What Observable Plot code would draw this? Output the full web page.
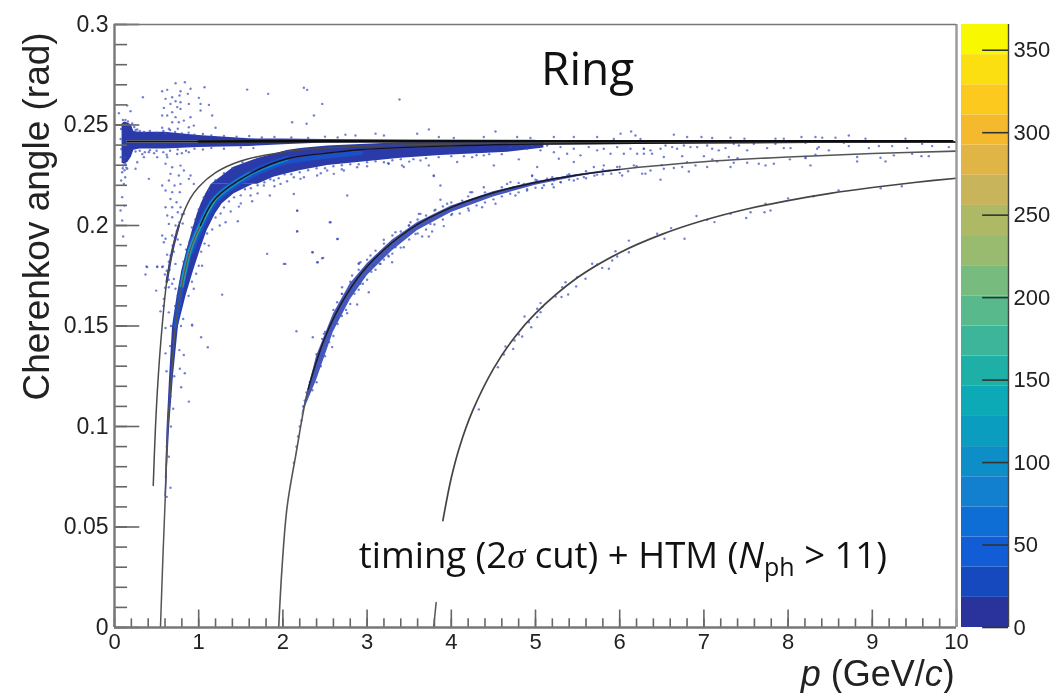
<!DOCTYPE html>
<html>
<head>
<meta charset="utf-8">
<script src="https://cdn.jsdelivr.net/npm/d3@7"></script>
<script src="https://cdn.jsdelivr.net/npm/@observablehq/plot@0.6"></script>
<style>
html,body{margin:0;padding:0;background:#fff;overflow:hidden}
#wrap{position:relative;width:1063px;height:693px;overflow:hidden;filter:blur(0.45px)}
#wrap svg{position:absolute;left:0;top:0;background:transparent;overflow:visible}
</style>
</head>
<body>
<div id="wrap"></div>
<script>
// ---------- curves [p, angle] ----------
const electronLine = [[0.15,0.2418],[1,0.2418],[3,0.2419],[6,0.2419],[9.95,0.2419]];
const muonLine = [[0.46,0.0706],[0.487,0.1],[0.52,0.125],[0.566,0.15],[0.62,0.172],[0.69,0.188],[0.764,0.2],[0.9,0.2135],[1,0.2192],[1.2,0.2263],[1.5,0.2321],[2,0.2365],[2.5,0.2384],[3,0.2395],[4,0.2406],[6,0.2413],[10,0.2417]];
const pionLine = [[0.546,0],[0.575,0.035],[0.606,0.068],[0.633,0.1],[0.675,0.125],[0.724,0.15],[0.8,0.17],[0.9,0.188],[1.02,0.2],[1.2,0.2135],[1.6,0.2255],[2.05,0.2332],[2.5,0.2359],[2.92,0.2377],[4,0.2396],[5,0.2405],[7,0.2412],[10,0.2415]];
const kaonLine = [[1.95,0],[1.99,0.03],[2.05,0.06],[2.15,0.085],[2.3,0.1186],[2.5,0.1443],[2.75,0.1652],[3,0.1796],[3.5,0.1979],[4,0.209],[4.5,0.2163],[5,0.2214],[5.5,0.2251],[6,0.2279],[7,0.2317],[8,0.2341],[9,0.2358],[10,0.237]];
const protonLineLow = [[3.79,0],[3.82,0.0124]];
const protonLineHigh = [[3.9,0.0532],[4,0.0745],[4.1,0.0901],[4.25,0.1075],[4.5,0.1287],[4.75,0.1443],[5,0.1563],[5.5,0.1741],[6,0.1865],[6.5,0.1956],[7,0.2026],[7.5,0.2081],[8,0.2124],[8.5,0.216],[9,0.2189],[9.5,0.2214],[10,0.2235]];

// ---------- dense bands ----------
const electronBand = [[0.09,0.231,0.2505],[0.12,0.2305,0.2515],[0.16,0.2315,0.251],[0.2,0.234,0.25],[0.23,0.2375,0.2468],[0.3,0.238,0.2464],[0.6,0.2381,0.2464],[1,0.2388,0.2448],[1.6,0.2393,0.2431],[2,0.2402,0.243],[2.5,0.241,0.2428],[3.5,0.2412,0.2425],[5,0.2414,0.2424]];
const pionBandSteep = [[0.065,0.6,0.615],[0.08,0.61,0.63],[0.1,0.625,0.655],[0.125,0.655,0.7],[0.15,0.69,0.76],[0.165,0.745,0.85],[0.1776,0.8,0.94],[0.1892,0.87,1.03],[0.1975,0.925,1.1],[0.2058,0.985,1.2],[0.2108,1.03,1.28],[0.2158,1.085,1.42],[0.2205,1.15,1.65]];
const pionBandFlat = [[1.15,0.2205,0.2205],[1.417,0.2205,0.229],[1.7,0.2205,0.2333],[1.89,0.224,0.2355],[2.05,0.2258,0.2373],[2.21,0.2274,0.2383],[2.53,0.2298,0.2396],[2.92,0.2315,0.2403],[3.4,0.2335,0.2412],[3.87,0.2348,0.2415],[4.67,0.2365,0.2418],[5.1,0.2385,0.2418]];
const kaonBand = [[2.22,0.105,0.105],[2.4,0.123,0.135],[2.6,0.147,0.156],[2.8,0.163,0.171],[3,0.175,0.181],[3.3,0.1875,0.1928],[3.6,0.1975,0.2015],[4,0.2065,0.2097],[4.5,0.2142,0.2168],[5,0.22,0.2218],[5.5,0.2242,0.2254],[5.9,0.2272,0.2277]];

// ---------- single entries ----------
const cloudAbove = [[0.725,0.2708],[0.836,0.2713],[0.903,0.268],[0.626,0.2675],[0.566,0.2668],[0.784,0.2668],[1.069,0.2688],[0.772,0.2647],[0.685,0.2638],[0.871,0.2655],[0.337,0.2638],[0.606,0.263],[0.725,0.2618],[0.784,0.2613],[1.002,0.2635],[0.883,0.2605],[1.022,0.2605],[1.121,0.26],[0.665,0.2605],[0.745,0.2589],[0.586,0.2585],[0.685,0.2564],[0.784,0.258],[0.903,0.2539],[0.566,0.2547],[0.626,0.2547],[0.725,0.2539],[1.022,0.2572],[1.16,0.2547],[0.685,0.2514],[0.764,0.2514],[0.824,0.2522],[0.942,0.2497],[0.566,0.2486],[0.646,0.2481],[0.752,0.2481],[0.883,0.2489],[1.2,0.2486],[0.606,0.2459],[1.576,0.2676],[1.825,0.2655],[2.249,0.2685],[2.288,0.2675],[2.467,0.2605],[2.368,0.2547],[2.11,0.2514],[2.281,0.2506],[0.151,0.2597],[0.19,0.2569],[0.052,0.2559]];
const cloudBelow = [[0.626,0.234],[0.745,0.2356],[0.883,0.2365],[0.606,0.2307],[0.685,0.229],[0.784,0.2298],[0.665,0.2257],[0.764,0.2249],[0.824,0.2274],[0.903,0.2249],[0.566,0.2199],[0.646,0.2224],[0.713,0.2199],[0.784,0.2207],[0.883,0.2232],[0.606,0.2174],[0.685,0.2166],[0.776,0.2166],[0.942,0.2207],[0.665,0.2132],[0.737,0.2116],[0.606,0.2091],[0.685,0.2091],[0.784,0.2091],[0.626,0.205],[0.685,0.2041],[0.752,0.2066],[0.824,0.2058],[0.646,0.2008],[0.725,0.2],[0.566,0.195],[0.606,0.1934],[0.685,0.195],[0.388,0.1793],[0.507,0.1793],[0.566,0.1793],[0.408,0.2232],[1.813,0.1859],[2.011,0.1809],[2.348,0.1867],[2.407,0.1817],[2.478,0.1839],[2.17,0.2074],[2.17,0.1972],[2.566,0.2016],[2.653,0.1933],[2.902,0.1812],[2.764,0.2149],[2.13,0.2157],[1.845,0.2149],[1.635,0.2121],[1.477,0.2094],[1.465,0.2021],[1.319,0.2016],[1.774,0.2199],[1.972,0.2207],[2.209,0.2232],[2.407,0.2249],[2.605,0.2257],[1.616,0.2149],[1.893,0.2224],[2.13,0.224],[2.526,0.2274],[2.724,0.2274],[2.882,0.229],[0.349,0.234],[0.27,0.2315],[0.25,0.2282],[0.408,0.2365],[0.507,0.234]];
const leftFuzz = [[0.091,0.2265],[0.111,0.2207],[0.091,0.2141],[0.072,0.2075],[0.119,0.2099],[0.091,0.2025],[0.103,0.1945],[0.151,0.2282],[0.119,0.234],[0.111,0.2323],[0.103,0.2298],[0.127,0.224],[0.079,0.2224],[0.075,0.234],[0.08,0.238],[0.072,0.243],[0.078,0.248],[0.13,0.2525],[0.1,0.2525],[0.16,0.2518],[0.21,0.2508],[0.235,0.249],[0.27,0.2478],[0.098,0.2285],[0.12,0.2275],[0.14,0.2288],[0.13,0.2305]];
const electronFuzz = [[0.25,0.2475],[0.3,0.247],[0.35,0.2465],[0.42,0.247],[0.5,0.2462],[0.58,0.247],[0.66,0.2475],[0.72,0.2465],[0.8,0.2458],[0.88,0.2462],[0.95,0.2452],[1.05,0.2455],[1.15,0.2448],[1.3,0.2445],[1.45,0.2442],[1.6,0.2445],[1.75,0.2438],[1.9,0.244],[2.1,0.2438],[2.3,0.2435],[2.5,0.2442],[2.65,0.2438],[0.25,0.2368],[0.3,0.2372],[0.36,0.2365],[0.42,0.2375],[0.5,0.2372],[0.58,0.2365],[0.66,0.2372],[0.75,0.2378],[0.85,0.2372],[0.95,0.2382],[1.05,0.2378],[1.15,0.2385],[1.3,0.2382],[1.5,0.2388],[1.65,0.2385],[0.33,0.2355],[0.47,0.236],[0.62,0.2352],[0.8,0.236]];
const pionEdge = [[0.88,0.165],[0.92,0.172],[0.97,0.176],[1,0.18],[1.03,0.187],[1.07,0.191],[1.1,0.196],[1.16,0.198],[1.2,0.204],[1.26,0.206],[1.3,0.209],[1.36,0.212],[1.42,0.214],[1.5,0.215],[1.55,0.218],[1.62,0.2185],[1.7,0.22],[1.78,0.2215],[1.85,0.223],[1.95,0.2235],[2.02,0.2255],[2.1,0.2255],[2.2,0.2265],[2.3,0.2275],[2.4,0.2285],[2.5,0.2285],[2.6,0.2295],[2.7,0.23],[2.8,0.2305],[2.9,0.2305],[3,0.2315],[3.1,0.232],[3.2,0.2315],[3.3,0.2325],[3.4,0.233],[3.55,0.233],[3.7,0.2335],[3.85,0.234],[4,0.2345],[4.15,0.2345],[4.3,0.235],[4.45,0.2355],[4.6,0.2355],[1.04,0.18],[1.12,0.19],[1.25,0.2],[1.38,0.207],[1.5,0.211],[1.7,0.216],[1.9,0.2195],[2.05,0.222],[2.25,0.224],[2.45,0.226],[2.7,0.228],[3,0.2295],[3.25,0.231],[3.5,0.2318],[0.75,0.165],[0.78,0.172],[0.82,0.182],[0.85,0.188],[0.89,0.192],[0.92,0.199],[0.96,0.203],[1,0.208],[1.06,0.214],[1.12,0.2175],[1.2,0.2225],[1.3,0.226],[1.4,0.2285],[1.52,0.2315],[0.66,0.14],[0.67,0.15],[0.72,0.16],[0.79,0.15],[0.77,0.138],[0.71,0.125],[0.665,0.115],[0.67,0.1],[0.62,0.09],[0.645,0.085],[0.61,0.075],[0.62,0.065]];
const muonTrail = [[0.62,0.1775],[0.645,0.182],[0.665,0.185],[0.69,0.19],[0.715,0.194],[0.74,0.197],[0.77,0.2015],[0.8,0.2055],[0.655,0.178],[0.705,0.187],[0.75,0.193],[0.81,0.201],[0.6,0.169],[0.58,0.16]];
const pionLowCloud = [[1.279,0.1656],[0.922,0.1507],[0.922,0.1502],[1.029,0.1444],[1.108,0.1394],[0.823,0.1356],[0.776,0.1287],[0.835,0.1265],[0.792,0.1195],[0.883,0.1124],[0.697,0.1088],[0.665,0.0695],[0.38,0.1796],[0.507,0.1796],[0.574,0.1796],[0.368,0.1756],[0.495,0.1676],[0.598,0.1756],[0.645,0.173],[0.705,0.1734],[0.724,0.1685],[0.645,0.1693],[0.586,0.1635],[0.645,0.1568],[0.546,0.1573],[0.606,0.149],[0.685,0.1419],[0.606,0.1364],[0.618,0.1275],[0.724,0.1809],[0.784,0.1905],[0.586,0.1917],[0.625,0.1855],[0.942,0.1685],[0.816,0.1535],[0.685,0.171]];
const electronTail = [[3.385,0.2627],[3.733,0.2478],[4.525,0.2468],[6.01,0.2457],[6.136,0.2468],[3.595,0.2457],[3.1,0.2457],[3.2,0.2448],[2.743,0.2452],[2.862,0.2448],[6.187,0.2448],[3.852,0.244],[4.03,0.2435],[4.386,0.244],[4.782,0.244],[4.94,0.2435],[5.218,0.244],[5.455,0.244],[5.732,0.244],[5.93,0.243],[6.247,0.243],[4.703,0.239],[4.822,0.2402],[4.901,0.2382],[4.96,0.2398],[5.059,0.2374],[5.138,0.2398],[5.218,0.2365],[5.297,0.239],[5.376,0.2357],[5.455,0.2382],[5.534,0.2349],[5.633,0.239],[5.732,0.2374],[5.811,0.2382],[5.891,0.2357],[5.97,0.239],[6.049,0.2357],[6.128,0.2382],[6.207,0.2357],[6.287,0.2382],[6.385,0.2357],[4.386,0.2349],[4.248,0.234],[4.07,0.2316],[3.733,0.2299],[3.634,0.2324],[3.416,0.2299],[3.258,0.2307],[3.436,0.2291],[4.505,0.2299],[4.802,0.2329],[5.02,0.2291],[4.96,0.2246],[3.792,0.2246],[5.277,0.2332],[5.455,0.2316],[6.643,0.2452],[6.801,0.244],[6.971,0.244],[7.098,0.2435],[7.316,0.2437],[7.482,0.2432],[7.85,0.2432],[7.949,0.2432],[8.159,0.244],[8.325,0.244],[8.405,0.2437],[8.563,0.2437],[8.721,0.2448],[8.919,0.2432],[9.394,0.2432],[9.592,0.2407],[6.287,0.2382],[6.366,0.2374],[6.485,0.2382],[6.544,0.2398],[6.623,0.239],[6.682,0.2382],[6.762,0.2398],[6.841,0.239],[6.92,0.239],[7.039,0.2398],[7.098,0.2382],[7.177,0.2374],[7.257,0.2385],[7.355,0.2407],[7.415,0.2398],[7.514,0.2374],[7.593,0.2407],[7.751,0.2385],[7.85,0.2407],[7.949,0.2385],[8.029,0.2385],[8.207,0.2412],[8.345,0.2382],[8.365,0.239],[8.484,0.2374],[8.662,0.2412],[8.721,0.2395],[8.959,0.2385],[9.078,0.2395],[9.236,0.2395],[9.414,0.2385],[9.711,0.2395],[9.909,0.239],[6.287,0.2357],[6.524,0.2341],[6.742,0.2345],[7,0.2345],[7.296,0.2341],[8.207,0.2341],[8.325,0.2352],[8.82,0.2341],[9.097,0.2337],[9.473,0.2357],[9.584,0.2345],[9.671,0.2345]];
const kaonScatter = [[2.407,0.1328],[2.466,0.1436],[2.505,0.1444],[2.585,0.1395],[2.565,0.1511],[2.624,0.1544],[2.763,0.1564],[2.703,0.166],[2.882,0.1607],[2.822,0.1701],[2.921,0.171],[3.02,0.1668],[2.901,0.1809],[2.961,0.1743],[3.079,0.1801],[3.04,0.1851],[3.159,0.1809],[3.297,0.1817],[3.257,0.1846],[3.198,0.1929],[3.337,0.1892],[3.436,0.1892],[3.337,0.1967],[3.495,0.2],[3.574,0.1958],[3.654,0.1945],[3.733,0.1945],[3.772,0.197],[3.634,0.2058],[3.752,0.2008],[3.911,0.1997],[3.871,0.205],[4.01,0.2058],[4.208,0.2075],[4.129,0.2124],[4.366,0.2091],[4.525,0.2108],[4.247,0.2166],[4.663,0.2207],[4.762,0.2149],[4.9,0.2174],[4.96,0.2249],[5.079,0.2187],[5.217,0.219],[3.792,0.2249],[3.871,0.2199],[3.871,0.2128],[2.486,0.1461],[2.644,0.1618],[2.703,0.1693],[2.822,0.1751],[2.921,0.1817],[3.515,0.2016],[3.614,0.2058],[3.812,0.2078],[3.951,0.2108],[4.227,0.2166],[4.386,0.219],[4.861,0.2207],[5.019,0.2224],[5.257,0.2232],[4.703,0.2216],[5.02,0.2216],[5.138,0.2233],[5.297,0.2216],[5.455,0.2224],[5.693,0.2291],[5.811,0.2299],[5.97,0.2291],[6.029,0.2249],[6.168,0.2299],[6.267,0.2258],[5.732,0.2253],[5.574,0.2241],[5.376,0.2249],[5.218,0.2224],[6.306,0.2258],[6.366,0.2274],[6.485,0.2228],[6.524,0.2282],[6.643,0.2286],[6.742,0.2291],[6.821,0.2269],[6.9,0.2299],[7.039,0.2291],[7.158,0.2319],[7.316,0.2291],[7.355,0.2312],[7.514,0.2312],[7.652,0.2307],[7.732,0.2299],[7.831,0.2307],[8.021,0.2329],[8.207,0.2335],[8.266,0.2299],[8.82,0.2319],[9.157,0.2319],[9.256,0.2349],[2.169,0.2074],[2.557,0.2016],[2.169,0.197],[2.644,0.1933],[2.355,0.1867],[2.466,0.1837],[2.414,0.1817],[2.03,0.1809],[2.161,0.1474],[2.355,0.1444]];
const kaonEdge = [[2.13,0.082],[2.16,0.09],[2.2,0.1],[2.24,0.11],[2.18,0.095],[2.22,0.103],[2.26,0.113],[2.28,0.117],[2.32,0.122],[2.35,0.118],[2.4,0.122],[2.45,0.13],[2.5,0.135],[2.55,0.142],[2.6,0.145],[2.65,0.151],[2.7,0.155],[2.75,0.158],[2.8,0.161],[2.85,0.166],[2.9,0.168],[2.95,0.171],[3,0.173],[3.05,0.177],[3.1,0.178],[3.15,0.181],[3.2,0.183],[3.25,0.185],[3.3,0.186],[3.4,0.189],[3.5,0.193],[3.6,0.196],[3.7,0.198],[3.8,0.2005],[3.9,0.203],[4,0.2052],[4.1,0.206],[4.2,0.2085],[4.3,0.21],[4.4,0.2115],[4.5,0.213],[4.6,0.2145],[4.7,0.2158],[4.8,0.2165],[4.9,0.218],[5,0.2188],[5.1,0.22],[5.2,0.2205],[5.3,0.2215],[5.4,0.2228],[5.5,0.2232],[5.6,0.2235],[5.7,0.2248],[5.8,0.2255],[5.9,0.2258],[6,0.2262],[6.1,0.227],[2.4,0.136],[2.5,0.147],[2.6,0.158],[2.7,0.166],[2.8,0.172],[2.9,0.178],[3,0.183],[3.1,0.1875],[3.2,0.191],[3.3,0.195],[3.4,0.197],[3.5,0.2],[3.6,0.203],[3.7,0.205],[3.8,0.2075],[3.9,0.2095],[4,0.2115],[4.2,0.2145],[4.4,0.2165],[4.6,0.219],[4.8,0.2212],[5,0.2228],[5.2,0.224],[5.4,0.2255],[5.6,0.227],[5.8,0.2278],[6,0.2292],[6.2,0.2295],[6.5,0.23],[6.8,0.2315],[7.1,0.2328],[7.4,0.2335]];
const protonScatter = [[4.327,0.1085],[4.553,0.1295],[4.624,0.1358],[4.644,0.1398],[4.735,0.1386],[4.751,0.1428],[4.802,0.1458],[4.842,0.1448],[4.87,0.1547],[4.949,0.1494],[4.921,0.1519],[5.02,0.1544],[5.06,0.1569],[5.02,0.1586],[5.08,0.1594],[5.06,0.1614],[5.238,0.1647],[5.309,0.1644],[5.388,0.1657],[5.317,0.1693],[5.357,0.1718],[5.483,0.1697],[5.495,0.1743],[5.594,0.1735],[5.673,0.181],[5.733,0.1806],[5.792,0.1789],[5.871,0.1785],[5.911,0.1826],[5.97,0.1846],[5.95,0.1872],[6.109,0.1925],[6.109,0.1867],[6.445,0.1959],[6.532,0.1934],[6.611,0.1987],[6.77,0.1934],[6.912,0.2047],[7.039,0.2028],[7.126,0.2017],[7.316,0.2058],[7.502,0.2037],[7.554,0.2066],[7.732,0.2108],[7.72,0.2066],[7.791,0.2075],[8,0.2135],[8.3,0.2145],[8.6,0.2175],[9.1,0.2185],[9.35,0.2195]];

// ---------- axes and colour bar ----------
const xTickValues = [0,1,2,3,4,5,6,7,8,9,10];
const yTickValues = [0,0.05,0.1,0.15,0.2,0.25,0.3];
const barTickValues = [0,50,100,150,200,250,300,350];
const barMax = 365.6;
const barColors = ["#2a339c","#1649bd","#125cd6","#0f6ed6","#137fcf","#0d8ec6","#0a9dc0","#0ca9b6","#1eb0a6","#3cb59a","#58b98c","#78bb7e","#98bb70","#aeb966","#c8b45a","#e0b445","#f4b92d","#fcc91e","#fbdf10","#f8f800"];
const titleRing = "Ring";
const noteText = "timing (2σ cut) + HTM (Nph > 11)";
const xTitle = "p (GeV/c)";
const yTitle = "Cherenkov angle (rad)";

const W = 1063, H = 693;
const pts = (t) => t.map(d => ({p:d[0], a:d[1]}));
const band = (t) => t.map(d => ({p:d[0], lo:d[1], hi:d[2]}));
const steep = (t) => t.map(d => ({a:d[0], l:d[1], r:d[2]}));
const part = (t, a, b) => pts(t).filter(d => d.p >= a && d.p <= b);

const minorX = d3.range(0, 50.5).map(i => i * 0.2);
const minorY = d3.range(0, 30.5).map(i => i * 0.01);
const tickColor = "#666";
const dotColor = "#3a4ec4";
const deep = "#2a3aa8";

function cloud(t, r = 1.2, o = 0.72) {
  return Plot.dot(pts(t), {x:"p", y:"a", r, fill:dotColor, fillOpacity:o, stroke:"none"});
}
function curve(t, stroke, strokeWidth, dy = 0) {
  return Plot.line(t, {x:"p", y:"a", stroke, strokeWidth, dy, curve:"catmull-rom", strokeLinecap:"round"});
}

const chart = Plot.plot({
  width:W, height:H, marginLeft:114, marginRight:107, marginTop:24, marginBottom:66,
  style:{background:"transparent", fontFamily:"'Liberation Sans',sans-serif", overflow:"visible"},
  x:{domain:[0,10], range:[114,956]},
  y:{domain:[0,0.3], range:[627,24]},
  marks:[
    // dense bands
    Plot.areaY(band(electronBand), {x:"p", y1:"lo", y2:"hi", fill:deep}),
    Plot.areaX(steep(pionBandSteep), {y:"a", x1:"l", x2:"r", fill:deep}),
    Plot.areaY(band(pionBandFlat), {x:"p", y1:"lo", y2:"hi", fill:deep}),
    Plot.areaY(band(kaonBand), {x:"p", y1:"lo", y2:"hi", fill:"#2a40b0", fillOpacity:0.88}),
    curve(part(pionLine,0.9,2.1), "#1a50c8", 8, 1),
    curve(part(pionLine,2.05,3.6), "#1a50c8", 5, 3),
    curve(part(pionLine,0.72,1.02), "#1a50c8", 5),
    curve(part(pionLine,0.75,1.6), "#0e86cc", 4.5),
    curve(part(pionLine,1.2,2.1), "#0e86cc", 2.5, 1),
    curve(part(pionLine,0.8,1.25), "#1eb0a6", 2.8),
    curve(part(pionLine,0.8,1.1), "#b0b060", 1.2),
    curve(part(muonLine,0.6,0.82), deep, 2.4),
    // scattered entries
    cloud(cloudAbove), cloud(cloudBelow), cloud(leftFuzz), cloud(pionLowCloud),
    cloud(electronTail), cloud(electronFuzz), cloud(pionEdge), cloud(muonTrail),
    cloud(kaonScatter), cloud(kaonEdge), cloud(protonScatter),
    // reference curves
    curve(pts(muonLine), "#4a4a4a", 1.5),
    curve(pts(pionLine), "#555", 1.5),
    curve(part(pionLine,1.02,10), "#10122a", 1.4),
    curve(pts(kaonLine), "#555", 1.6),
    curve(part(kaonLine,2.3,6), "#181830", 1.4),
    curve(pts(protonLineLow), "#555", 1.5),
    curve(pts(protonLineHigh), "#444", 1.7),
    Plot.line(pts(electronLine), {x:"p", y:"a", stroke:"#8a8a8a", strokeWidth:2.4}),
    Plot.line(part(electronLine,0.15,1), {x:"p", y:"a", stroke:"#111", strokeWidth:1.4}),
    Plot.line(pts(electronLine).filter(d => d.p >= 1), {x:"p", y:"a", stroke:"#0c0c0c", strokeWidth:2.6}),
    // ticks inside the frame
    Plot.ruleX(minorX, {y1:0, y2:0.0043, stroke:tickColor, strokeWidth:1.6}),
    Plot.ruleX(xTickValues, {y1:0, y2:0.0087, stroke:tickColor, strokeWidth:1.6}),
    Plot.ruleY(minorY, {x1:0, x2:0.155, stroke:tickColor, strokeWidth:1.6}),
    Plot.ruleY(yTickValues, {x1:0, x2:0.3, stroke:tickColor, strokeWidth:1.6}),
    // frame
    Plot.ruleX([0], {stroke:"#777", strokeWidth:2.4}),
    Plot.ruleY([0], {stroke:"#777", strokeWidth:2.4}),
    Plot.ruleX([10], {stroke:"#999", strokeWidth:2.4}),
    Plot.ruleY([0.3], {stroke:"#777", strokeWidth:1.4}),
    // axis labels
    Plot.axisX({ticks:xTickValues, tickSize:0, tickPadding:6, tickFormat:d => String(d), fontSize:22, fill:"#222", label:null}),
    Plot.axisY({ticks:yTickValues, tickSize:0, tickPadding:6, tickFormat:d => String(d), fontSize:23, fill:"#222", label:null}),
    // titles and notes
    Plot.text([yTitle], {x:[-0.914], y:[0.2045], rotate:-90, text:d => d, fontSize:37, fill:"#222", textAnchor:"middle", lineAnchor:"middle"}),
    Plot.text([xTitle], {x:[9.98], y:[-0.0308], text:d => d, fontSize:36, fill:"#222", textAnchor:"end", lineAnchor:"bottom", dy:-3}),
    Plot.text([titleRing], {x:[5.62], y:[0.2697], text:d => d, fontSize:46, fill:"#111", fontFamily:"'Open Sans',sans-serif", textAnchor:"middle", lineAnchor:"bottom", dy:0}),
    Plot.text([noteText], {x:[2.9], y:[0.0294], text:d => d, fontSize:36.5, fill:"#111", fontFamily:"'Open Sans',sans-serif", textAnchor:"start", lineAnchor:"bottom", dy:0})
  ]
});

// colour bar: a second plot sharing the same picture area
const bandHeight = barMax / barColors.length;
const barBands = barColors.map((c, i) => ({lo:i * bandHeight, hi:(i + 1) * bandHeight, c}));
const bar = Plot.plot({
  width:W, height:H, marginLeft:961, marginRight:55, marginTop:24, marginBottom:66,
  style:{background:"transparent", fontFamily:"'Liberation Sans',sans-serif", overflow:"visible"},
  x:{domain:[0,1], range:[961,1008], axis:null},
  y:{domain:[0,barMax], range:[627,24], axis:null},
  marks:[
    Plot.rectY(barBands, {x1:0, x2:1, y1:"lo", y2:"hi", fill:"c"}),
    Plot.ruleX([1], {stroke:"#444", strokeWidth:1.4}),
    Plot.ruleY(barTickValues, {x1:0.45, x2:1, stroke:"#333", strokeWidth:1.6}),
    Plot.axisY({anchor:"right", ticks:barTickValues, tickSize:0, tickPadding:5, tickFormat:d => String(d), fontSize:22, fill:"#222", label:null})
  ]
});

// styled runs inside the two mixed-style strings
d3.select(chart).selectAll("text").each(function() {
  const s = d3.select(this);
  if (s.text() === noteText) {
    s.html('timing (2<tspan font-style="italic" font-family="Liberation Serif,serif">σ</tspan> cut) + HTM (<tspan font-style="italic">N</tspan><tspan font-size="25" dy="8">ph</tspan><tspan dy="-8"> &gt; 11)</tspan>');
  } else if (s.text() === xTitle) {
    s.html('<tspan font-style="italic">p</tspan> (GeV/<tspan font-style="italic">c</tspan>)');
  }
});
const wrap = document.getElementById("wrap");
wrap.appendChild(chart);
wrap.appendChild(bar);
</script>
</body>
</html>
